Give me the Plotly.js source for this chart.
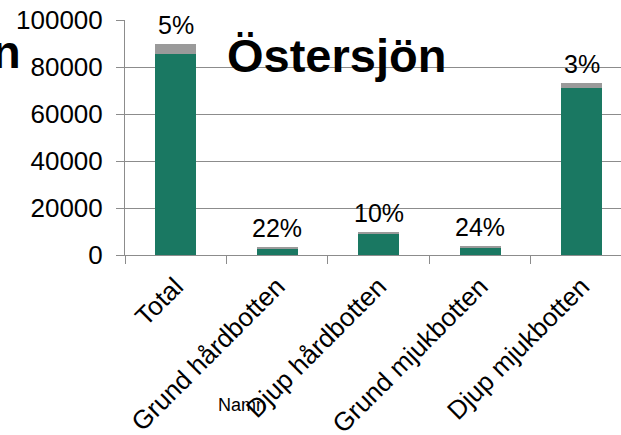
<!DOCTYPE html>
<html>
<head>
<meta charset="utf-8">
<script src="https://cdn.plot.ly/plotly-3.0.1.min.js"></script>
<style>html,body{margin:0;padding:0;background:#fff;overflow:hidden}#chart{width:621px;height:435px}</style>
</head>
<body>
<div id="chart"></div>
<script>
const categories = ["Total", "Grund hårdbotten", "Djup hårdbotten", "Grund mjukbotten", "Djup mjukbotten"];
const greenValues = [85500, 2650, 9000, 2900, 71000];
const greyValues = [4500, 750, 1000, 900, 2200];
const pctLabels = ["5%", "22%", "10%", "24%", "3%"];
const yTicks = [0, 20000, 40000, 60000, 80000, 100000];
const titleText = "Östersjön";
const axisTitle = "Namn";

const FONT = "Arial, 'Liberation Sans', sans-serif";

const traces = [
  {type: "bar", x: categories, y: greenValues, marker: {color: "#1a7862"}, hoverinfo: "none"},
  {type: "bar", x: categories, y: greyValues, marker: {color: "#9a9a9a"}, hoverinfo: "none"}
];

const annotations = categories.map((c, i) => ({
  x: c, y: greenValues[i] + greyValues[i], xref: "x", yref: "y",
  text: pctLabels[i], showarrow: false, yanchor: "bottom", yshift: 3,
  font: {family: FONT, size: 25, color: "#000"}
}));
annotations.push({
  xref: "paper", yref: "paper", x: 0.427, y: 0.85, xanchor: "center", yanchor: "middle",
  text: "<b>" + titleText + "</b>", showarrow: false,
  font: {family: FONT, size: 47, color: "#000"}
});
annotations.push({
  xref: "paper", yref: "paper", x: -0.206, y: 0.866, xanchor: "right", yanchor: "middle",
  text: "<b>n</b>", showarrow: false,
  font: {family: FONT, size: 47, color: "#000"}
});
annotations.push({
  xref: "paper", yref: "paper", x: 0.236, y: -0.64, xanchor: "center", yanchor: "middle",
  text: axisTitle, showarrow: false,
  font: {family: FONT, size: 18, color: "#000"}
});

const layout = {
  width: 621, height: 435,
  margin: {l: 125, r: 0, t: 20, b: 180, pad: 0},
  paper_bgcolor: "#fff", plot_bgcolor: "#fff",
  barmode: "stack", bargap: 0.6,
  showlegend: false,
  font: {family: FONT, color: "#000"},
  xaxis: {
    type: "category", range: [-0.5, 4.387],
    tickangle: -45, tickson: "boundaries",
    ticks: "outside", ticklen: 8, tickcolor: "#8c8c8c", tickwidth: 1,
    showline: true, linecolor: "#8c8c8c", linewidth: 1,
    showgrid: false, zeroline: false,
    ticklabelstandoff: 5,
    tickfont: {family: FONT, size: 26, color: "#000"}
  },
  yaxis: {
    range: [0, 100000], tickvals: yTicks, ticktext: yTicks.map(String),
    ticks: "outside", ticklen: 8, tickcolor: "#8c8c8c",
    showline: true, linecolor: "#8c8c8c", linewidth: 1,
    showgrid: true, gridcolor: "#8c8c8c", gridwidth: 1, zeroline: false,
    ticklabelstandoff: 8,
    tickfont: {family: FONT, size: 26, color: "#000"}
  },
  annotations: annotations
};

Plotly.newPlot("chart", traces, layout, {staticPlot: true, displayModeBar: false});
</script>
</body>
</html>
